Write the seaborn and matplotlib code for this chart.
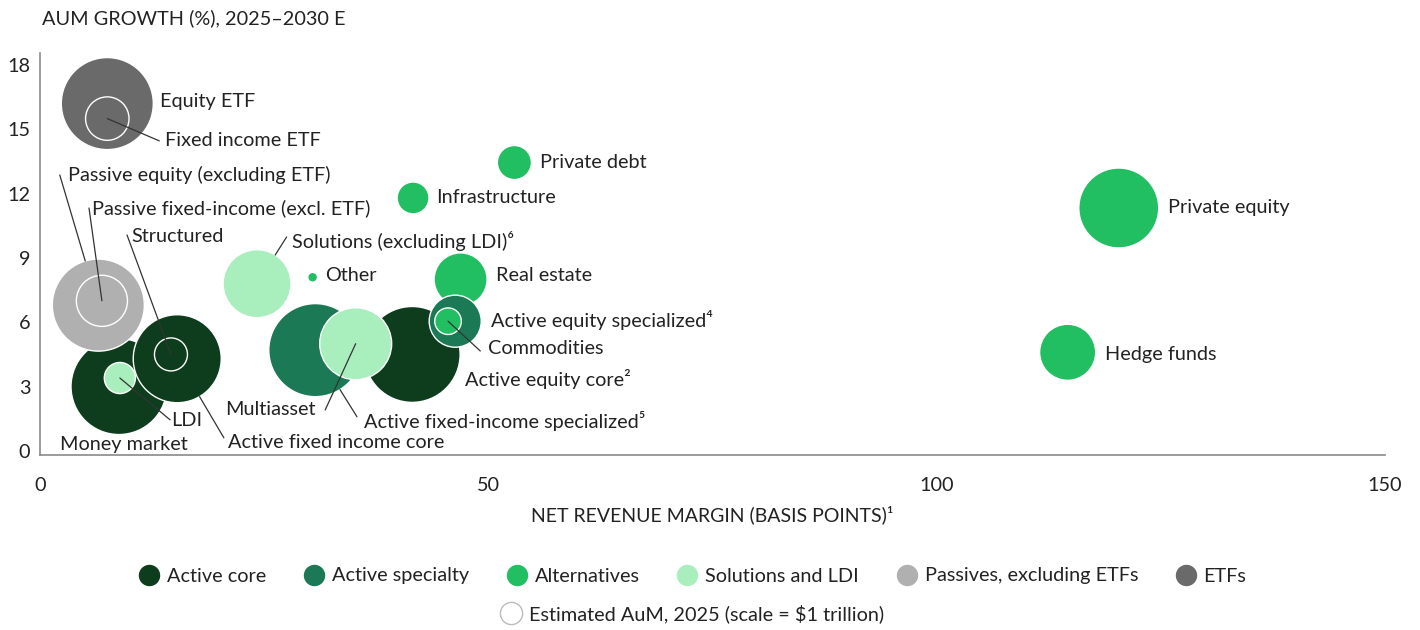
import matplotlib.pyplot as plt
from matplotlib.lines import Line2D
import seaborn as sns
import pandas as pd
import numpy as np

# Dados
nomes = ["Equity ETF", "Fixed income ETF", "Passive equity (excluding ETF)",
         "Passive fixed-income (excl. ETF)", "Money market", "LDI",
         "Active fixed income core", "Structured", "Solutions (excluding LDI)⁶",
         "Other", "Active fixed-income specialized⁵", "Multiasset",
         "Active equity core²", "Real estate", "Active equity specialized⁴",
         "Commodities", "Private debt", "Infrastructure", "Private equity",
         "Hedge funds"]
categorias = ["ETFs", "ETFs", "Passives, excluding ETFs", "Passives, excluding ETFs",
              "Active core", "Solutions and LDI", "Active core", "Active core",
              "Solutions and LDI", "Alternatives", "Active specialty",
              "Solutions and LDI", "Active core", "Alternatives", "Active specialty",
              "Alternatives", "Alternatives", "Alternatives", "Alternatives",
              "Alternatives"]
margem_bp = [7.5, 7.5, 6.5, 6.9, 8.8, 8.9, 15.3, 14.6, 24.2, 30.4, 30.7, 35.2,
             41.5, 46.9, 46.3, 45.5, 52.9, 41.6, 120.3, 114.6]
crescimento = [16.2, 15.5, 6.8, 7.0, 3.0, 3.4, 4.3, 4.5, 7.8, 8.1, 4.7, 5.0,
               4.5, 8.0, 6.05, 6.05, 13.45, 11.8, 11.33, 4.6]
aum_tri = [17.5, 3.9, 17.5, 5.4, 19.0, 2.0, 16.0, 2.25, 9.55, 0.2, 17.9, 10.7,
           19.0, 5.8, 5.6, 1.46, 2.4, 2.1, 13.2, 6.5]

ordem_legenda = ["Active core", "Active specialty", "Alternatives",
                 "Solutions and LDI", "Passives, excluding ETFs", "ETFs"]
cores = {"Active core": "#0e3d1e", "Active specialty": "#1b7a55",
         "Alternatives": "#22bf62", "Solutions and LDI": "#a9efbd",
         "Passives, excluding ETFs": "#b0b0b0", "ETFs": "#6a6a6a"}

# Rótulos: posição do texto, início da linha guia, ponta (centro/borda)
rotulos = {
    "Equity ETF": dict(xy=(13.4, 16.28)),
    "Fixed income ETF": dict(xy=(13.9, 14.46), linha=(13.3, 14.46), ponta="centro"),
    "Passive equity (excluding ETF)": dict(xy=(3.1, 12.87), linha=(2.2, 12.87), ponta="borda"),
    "Passive fixed-income (excl. ETF)": dict(xy=(5.8, 11.33), linha=(5.46, 11.33), ponta="centro"),
    "Structured": dict(xy=(10.15, 9.98), linha=(9.7, 10.07), ponta="centro"),
    "Solutions (excluding LDI)⁶": dict(xy=(28.1, 9.79), linha=(27.5, 9.98), ponta="borda"),
    "Other": dict(xy=(31.8, 8.16)),
    "Infrastructure": dict(xy=(44.2, 11.8)),
    "Private debt": dict(xy=(55.8, 13.43)),
    "Real estate": dict(xy=(50.9, 8.16)),
    "Active equity specialized⁴": dict(xy=(50.3, 6.11)),
    "Commodities": dict(xy=(50.0, 4.76), linha=(49.1, 4.66), ponta="centro"),
    "Active equity core²": dict(xy=(47.4, 3.36)),
    "Active fixed-income specialized⁵": dict(xy=(36.1, 1.40), linha=(35.35, 1.59), ponta="borda"),
    "Multiasset": dict(xy=(30.7, 1.91), linha=(31.8, 1.91), ponta="centro", ha="right"),
    "Active fixed income core": dict(xy=(21.0, 0.37), linha=(20.5, 0.61), ponta="borda"),
    "LDI": dict(xy=(14.6, 1.40), linha=(14.5, 1.45), ponta="centro"),
    "Money market": dict(xy=(2.2, 0.28)),
    "Private equity": dict(xy=(125.8, 11.33)),
    "Hedge funds": dict(xy=(118.8, 4.52)),
}

sns.set_theme(style="white")
plt.rcParams['font.family'] = ['Lato', 'DejaVu Sans']
plt.rcParams['text.color'] = '#222222'

df = pd.DataFrame({"nome": nomes, "categoria": categorias, "x": margem_bp,
                   "y": crescimento, "aum": aum_tri})
df = df.sort_values("aum", ascending=False).reset_index(drop=True)

fig, ax = plt.subplots(figsize=(14.2, 6.3), dpi=100)
fig.subplots_adjust(left=0.0282, right=0.9754, top=0.9159, bottom=0.2778)

# área do marcador: $1 tri -> raio de 11 px
s_por_tri = (22 * 0.72) ** 2
sns.scatterplot(data=df, x="x", y="y", hue="categoria", palette=cores,
                size="aum", sizes=(0, s_por_tri * 20), size_norm=(0, 20),
                edgecolor="white", linewidth=1.0, alpha=1, legend=False, ax=ax)

ax.set_xlim(0, 150)
ax.set_ylim(-0.19, 18.56)
ax.set_xticks([0, 50, 100, 150])
ax.set_yticks([0, 3, 6, 9, 12, 15, 18])
ax.tick_params(axis="x", length=0, pad=16, labelsize=14.3, labelcolor="#222222")
ax.tick_params(axis="y", length=0, pad=7, labelsize=14.3, labelcolor="#222222")
for lado in ["top", "right"]:
    ax.spines[lado].set_visible(False)
for lado in ["left", "bottom"]:
    ax.spines[lado].set_color("#8a8a8a")
    ax.spines[lado].set_linewidth(1.2)
ax.set_xlabel("NET REVENUE MARGIN (BASIS POINTS)¹", fontsize=14, labelpad=8,
              color="#222222")
ax.set_ylabel("")

fig.canvas.draw()
px_por_pt = fig.dpi / 72
for _, linha in df.iterrows():
    r = rotulos[linha["nome"]]
    ax.text(r["xy"][0], r["xy"][1], linha["nome"], fontsize=14.3,
            ha=r.get("ha", "left"), va="center", color="#222222")
    if "linha" in r:
        centro = ax.transData.transform((linha["x"], linha["y"]))
        inicio = ax.transData.transform(r["linha"])
        if r["ponta"] == "borda":
            raio = np.sqrt(s_por_tri * linha["aum"]) / 2 * px_por_pt
            v = inicio - centro
            fim = centro + v / np.linalg.norm(v) * raio
        else:
            fim = centro
        p = ax.transData.inverted().transform(np.vstack([inicio, fim]))
        ax.plot(p[:, 0], p[:, 1], color="#333333", linewidth=0.9, zorder=5)

fig.text(0.0296, 1 - 18 / 630, "AUM GROWTH (%), 2025–2030 E", fontsize=14.3,
         va="center", ha="left")

alcas = [Line2D([], [], marker="o", linestyle="", markersize=14.4,
                markerfacecolor=cores[c], markeredgecolor=cores[c]) for c in ordem_legenda]
fig.legend(alcas, ordem_legenda, loc="center", bbox_to_anchor=(0.488, 1 - 576 / 630),
           ncol=6, frameon=False, fontsize=14.3, handletextpad=0.4,
           columnspacing=1.9, handlelength=1.0)
alca_aum = Line2D([], [], marker="o", linestyle="", markersize=16,
                  markerfacecolor="white", markeredgecolor="#bbbbbb", markeredgewidth=1)
fig.legend([alca_aum], ["Estimated AuM, 2025 (scale = $1 trillion)"], loc="center",
           bbox_to_anchor=(0.488, 1 - 614 / 630), frameon=False, fontsize=14.3,
           handletextpad=0.4, handlelength=1.0)

fig.savefig("out.png", dpi=100)
